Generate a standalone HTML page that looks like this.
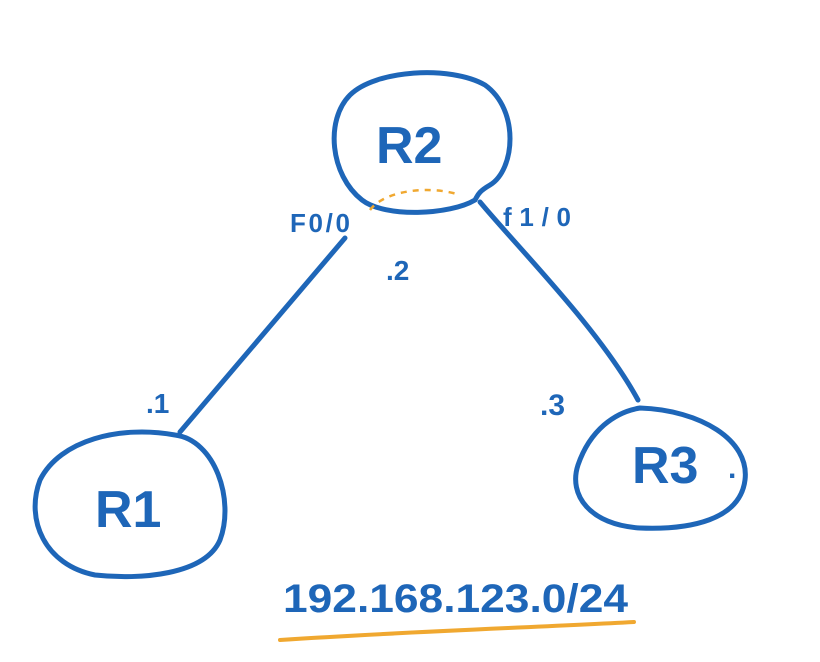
<!DOCTYPE html>
<html><head><meta charset="utf-8"><style>
html,body{margin:0;padding:0;background:#fff;}
svg{display:block;}
text{font-family:"Liberation Sans",sans-serif;fill:#1e66b8;}
</style></head><body>
<svg width="820" height="662" viewBox="0 0 820 662" xmlns="http://www.w3.org/2000/svg">
<g fill="none" stroke="#1e66b8" stroke-width="5" stroke-linecap="round">
<path d="M362,200 C330,175 325,120 350,95 C375,70 450,65 485,85 C520,110 515,170 490,185 C478,192 478,195 475,200 C450,215 385,218 362,200 Z"/>
<path d="M175,435 C215,440 235,500 220,540 C205,575 140,580 95,575 C45,565 25,520 40,480 C60,440 120,425 175,435 Z"/>
<path d="M640,408 C700,410 750,440 745,480 C740,520 690,530 640,528 C590,525 568,495 578,465 C590,430 615,412 640,408 Z"/>
<path d="M180,432 L345,238"/>
<path d="M480,202 C520,250 600,330 638,400"/>
</g>
<path d="M370,210 C385,190 430,185 460,195" fill="none" stroke="#f0a830" stroke-width="2.5" stroke-dasharray="6,6"/>
<path d="M280,640 C400,632 520,628 634,622" fill="none" stroke="#f0a830" stroke-width="4" stroke-linecap="round"/>
<text x="376" y="163" font-size="52" font-weight="bold">R2</text>
<text x="95" y="527" font-size="52" font-weight="bold">R1</text>
<text x="632" y="483" font-size="52" font-weight="bold">R3</text>
<text x="728" y="478" font-size="30" font-weight="bold">.</text>
<text x="290" y="232" font-size="26" font-weight="bold" textLength="60">F0/0</text>
<text x="503" y="226" font-size="26" font-weight="bold" textLength="68">f1/0</text>
<text x="386" y="280" font-size="28" font-weight="bold">.2</text>
<text x="146" y="413" font-size="28" font-weight="bold">.1</text>
<text x="540" y="415" font-size="30" font-weight="bold">.3</text>
<text x="283" y="612" font-size="40" font-weight="bold" textLength="345" lengthAdjust="spacingAndGlyphs">192.168.123.0/24</text>
</svg>
</body></html>
